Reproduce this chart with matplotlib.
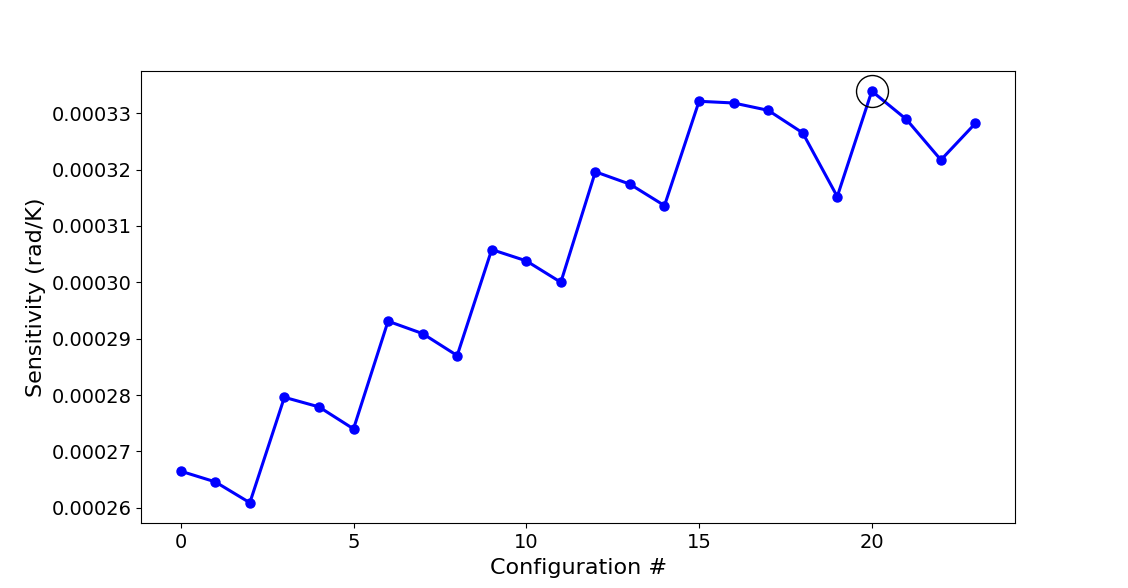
import numpy as np
import matplotlib
matplotlib.use('Agg')
import matplotlib.pyplot as plt

config = list(range(24))
sensitivity = [0.0002665, 0.0002646, 0.0002609, 0.0002796, 0.0002779, 0.0002740,
               0.0002931, 0.0002909, 0.0002870, 0.0003058, 0.0003038, 0.0003000,
               0.0003196, 0.0003174, 0.0003136, 0.0003321, 0.0003318, 0.0003305,
               0.0003265, 0.0003152, 0.0003339, 0.0003289, 0.0003217, 0.0003282]
best = int(np.argmax(sensitivity))

fig, ax = plt.subplots(figsize=(11.28, 5.88), dpi=100)
ax.plot(config, sensitivity, 'o-', color='blue', linewidth=2.2, markersize=6.5)
ax.plot(config[best], sensitivity[best], 'o', markersize=23, markerfacecolor='none',
        markeredgecolor='black', markeredgewidth=1)

ax.set_xlabel('Configuration #', fontsize=16)
ax.set_ylabel('Sensitivity (rad/K)', fontsize=16)
ax.tick_params(labelsize=14)

plt.savefig('out.png', dpi=100)
